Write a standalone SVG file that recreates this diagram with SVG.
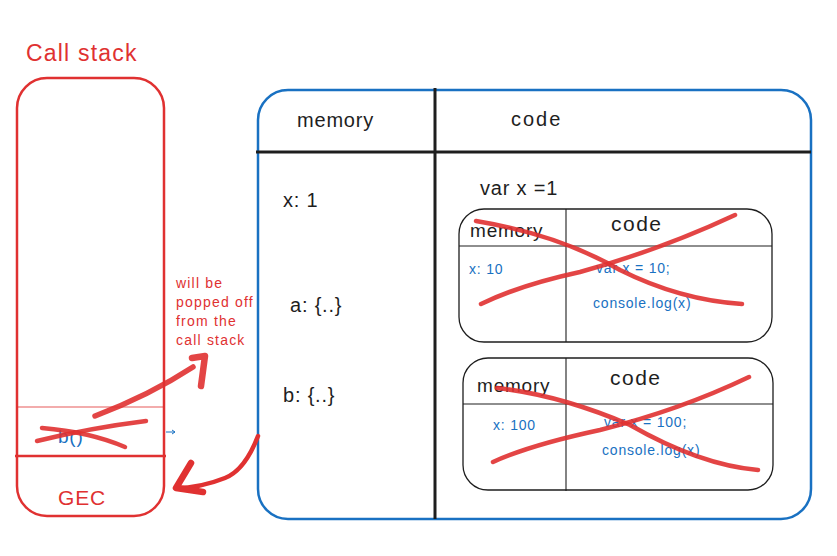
<svg xmlns="http://www.w3.org/2000/svg" width="837" height="556" viewBox="0 0 837 556">
  <defs>
    <style>
      .t { font-family: "Liberation Sans", "DejaVu Sans", sans-serif; letter-spacing: 0.8px; }
      .blk { fill: #1e1e1e; }
      .red { fill: #e03131; }
      .blue { fill: #1971c2; }
      .redline { fill: none; stroke: #e03131; stroke-linecap: round; stroke-linejoin: round; }
      .strike { fill: none; stroke: #e03131; stroke-opacity: 0.9; stroke-width: 4.5; stroke-linecap: round; }
      .inner { fill: none; stroke: #1e1e1e; stroke-width: 1.3; }
      .sep { stroke: #1e1e1e; stroke-width: 1.1; }
    </style>
  </defs>
  <rect width="837" height="556" fill="#ffffff"/>

  <!-- Call stack -->
  <g id="call-stack">
    <text class="t red" x="26" y="61" font-size="23" style="letter-spacing:1.2px">Call stack</text>
    <rect x="17" y="78" width="147" height="438" rx="30" fill="none" stroke="#e03131" stroke-width="2.5"/>
    <line x1="17" y1="407" x2="164" y2="407" stroke="#e03131" stroke-width="1" stroke-opacity="0.8"/>
    <line x1="15" y1="456" x2="166" y2="456" stroke="#e03131" stroke-width="2.5"/>
    <text class="t blue" x="58" y="443" font-size="19">b()</text>
    <text class="t red" x="58" y="505" font-size="21">GEC</text>
  </g>

  <!-- b() frame crossed out -->
  <g id="b-frame-strike">
    <path class="strike" d="M37 441 Q90 428 146 421" stroke-width="6"/>
    <path class="strike" d="M42 428 Q90 432 125 447" stroke-width="5"/>
  </g>

  <!-- Note -->
  <g id="note" class="t red" font-size="14" style="letter-spacing:1.2px">
    <text x="176" y="288">will be</text>
    <text x="176" y="307">popped off</text>
    <text x="176" y="326">from the</text>
    <text x="176" y="345">call stack</text>
  </g>

  <!-- Global execution context -->
  <g id="gec-context">
    <rect x="258" y="90" width="553" height="429" rx="30" fill="none" stroke="#1971c2" stroke-width="2.5"/>
    <line x1="256" y1="152" x2="811" y2="152" stroke="#1e1e1e" stroke-width="3"/>
    <line x1="435" y1="88" x2="435" y2="519" stroke="#1e1e1e" stroke-width="3"/>
    <text class="t blk" x="297" y="127" font-size="20">memory</text>
    <text class="t blk" x="511" y="126" font-size="20" style="letter-spacing:2px">code</text>
    <text class="t blk" x="283" y="207" font-size="20">x: 1</text>
    <text class="t blk" x="290" y="312" font-size="20">a: {..}</text>
    <text class="t blk" x="283" y="402" font-size="20">b: {..}</text>
    <text class="t blk" x="480" y="195" font-size="20">var x =1</text>
  </g>

  <!-- Execution context of a() -->
  <g id="a-context">
    <rect class="inner" x="459" y="209" width="313" height="133" rx="25"/>
    <line class="sep" x1="459" y1="246" x2="772" y2="246"/>
    <line class="sep" x1="566" y1="209" x2="566" y2="342"/>
    <text class="t blk" x="470" y="237" font-size="19">memory</text>
    <text class="t blk" x="611" y="231" font-size="21" style="letter-spacing:1.5px">code</text>
    <text class="t blue" x="469" y="274" font-size="14">x: 10</text>
    <text class="t blue" x="596" y="273" font-size="14">var x = 10;</text>
    <text class="t blue" x="593" y="308" font-size="14">console.log(x)</text>
    <path class="strike" d="M476 221 Q560 235 620 270 Q680 300 742 304"/>
    <path class="strike" d="M481 304 Q520 285 580 272 Q660 250 735 215"/>
  </g>

  <!-- Execution context of b() -->
  <g id="b-context">
    <rect class="inner" x="463" y="358" width="310" height="132" rx="25"/>
    <line class="sep" x1="463" y1="404" x2="773" y2="404"/>
    <line class="sep" x1="566" y1="358" x2="566" y2="491"/>
    <text class="t blk" x="477" y="392" font-size="19">memory</text>
    <text class="t blk" x="610" y="385" font-size="21" style="letter-spacing:1.5px">code</text>
    <text class="t blue" x="493" y="430" font-size="14">x: 100</text>
    <text class="t blue" x="604" y="427" font-size="14">var x = 100;</text>
    <text class="t blue" x="602" y="455" font-size="14">console.log(x)</text>
    <path class="strike" d="M497 388 Q560 395 630 425 Q700 465 758 470"/>
    <path class="strike" d="M493 462 Q530 445 600 430 Q680 410 749 377"/>
  </g>

  <!-- Connectors -->
  <g id="connectors">
    <!-- pop-off arrow -->
    <path class="redline" stroke-width="5.5" stroke-opacity="0.9" d="M95 416 Q150 395 193 367"/>
    <path class="redline" stroke-width="6.5" stroke-opacity="0.9" d="M192 358 L205 356 L201 386"/>
    <!-- return arrow to GEC -->
    <path class="redline" stroke-width="4.5" d="M258 436 Q245 470 225 478 Q200 488 176 488"/>
    <path class="redline" stroke-width="6.5" d="M191 463 L176 488 L203 492"/>
    <!-- small blue tick -->
    <path d="M166 432 L175 432 M172 430 L175 432 L172 434" fill="none" stroke="#1971c2" stroke-width="1"/>
  </g>
</svg>
